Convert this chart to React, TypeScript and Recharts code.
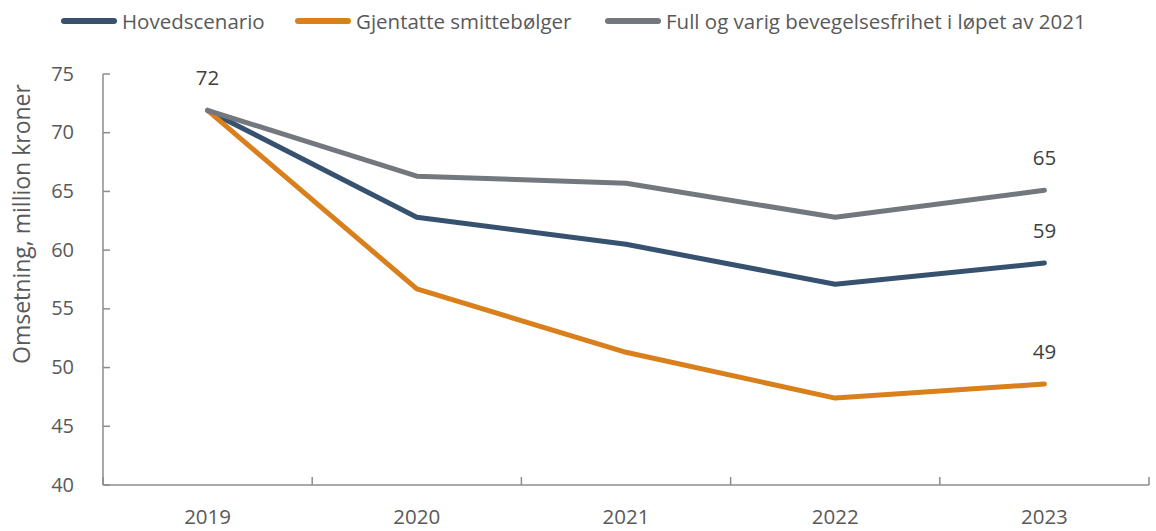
import { LineChart, Line, XAxis, YAxis, LabelList } from 'recharts';

const years = ['2019', '2020', '2021', '2022', '2023'];
const hovedscenario = [71.9, 62.8, 60.5, 57.1, 58.9];
const smittebolger = [71.9, 56.7, 51.3, 47.4, 48.6];
const fullFrihet = [71.9, 66.3, 65.7, 62.8, 65.1];
const yTicks = [40, 45, 50, 55, 60, 65, 70, 75];

const series = [
  { key: 'hoved', name: 'Hovedscenario', color: '#36526F', values: hovedscenario, legendX: 61 },
  { key: 'smitte', name: 'Gjentatte smittebølger', color: '#D97F1C', values: smittebolger, legendX: 295 },
  { key: 'full', name: 'Full og varig bevegelsesfrihet i løpet av 2021', color: '#72787E', values: fullFrihet, legendX: 605 },
];

const data = years.map((year, i) => ({
  year,
  hoved: hovedscenario[i],
  smitte: smittebolger[i],
  full: fullFrihet[i],
}));

const FONT = '"Open Sans", sans-serif';
const AXIS = '#8C8C8C';
const WIDTH = 1156;
const HEIGHT = 531;
const MARGIN = { top: 74, right: 7, bottom: 6, left: 0 };
const Y_WIDTH = 103;
const BAND = (WIDTH - MARGIN.left - MARGIN.right - Y_WIDTH) / years.length;

function XTick({ x, y, payload, index }: any) {
  const last = index === years.length - 1;
  return (
    <g>
      <line x1={x - BAND / 2} x2={x - BAND / 2} y1={y - 8} y2={y} stroke={AXIS} strokeWidth={1.5} />
      {last && <line x1={x + BAND / 2} x2={x + BAND / 2} y1={y - 8} y2={y} stroke={AXIS} strokeWidth={1.5} />}
      <text x={x} y={y + 39} textAnchor="middle" fill="#595959" fontSize={20.5} fontFamily={FONT}>
        {payload.value}
      </text>
    </g>
  );
}

function YTick({ x, y, payload }: any) {
  return (
    <g>
      <line x1={x} x2={x + 7} y1={y} y2={y} stroke={AXIS} strokeWidth={1.5} />
      <text x={x - 29} y={y + 6.5} textAnchor="end" fill="#595959" fontSize={20} fontFamily={FONT}>
        {payload.value}
      </text>
    </g>
  );
}

function makeLabel(showFirst: boolean) {
  return (props: any) => {
    const { x, y, value, index } = props;
    if (!(index === years.length - 1 || (showFirst && index === 0))) return null;
    return (
      <text x={x} y={y - 25} textAnchor="middle" fill="#404040" fontSize={20.5} fontFamily={FONT}>
        {Math.round(value)}
      </text>
    );
  };
}

function YLabel() {
  return (
    <text
      x={30}
      y={224}
      transform="rotate(-90 30 224)"
      textAnchor="middle"
      fill="#595959"
      fontSize={23}
      fontFamily={FONT}
    >
      Omsetning, million kroner
    </text>
  );
}

export default function App() {
  return (
    <div style={{ position: 'absolute', left: 0, top: 0, width: WIDTH, height: HEIGHT, background: '#fff' }}>
      {series.map((s) => (
        <div
          key={s.key}
          style={{
            position: 'absolute',
            left: s.legendX,
            top: 6,
            height: 30,
            display: 'flex',
            alignItems: 'center',
            fontFamily: FONT,
            fontSize: 20.5,
            color: '#595959',
            whiteSpace: 'nowrap',
          }}
        >
          <span style={{ display: 'inline-block', width: 56, height: 6, borderRadius: 3, background: s.color, marginRight: 5 }} />
          <span>{s.name}</span>
        </div>
      ))}
      <LineChart width={WIDTH} height={HEIGHT} data={data} margin={MARGIN}>
        <XAxis
          dataKey="year"
          stroke={AXIS}
          strokeWidth={1.5}
          tickLine={false}
          tickSize={0}
          tickMargin={0}
          height={40}
          interval={0}
          padding={{ left: BAND / 2, right: BAND / 2 }}
          tick={<XTick />}
        />
        <YAxis
          domain={[40, 75]}
          ticks={yTicks}
          width={Y_WIDTH}
          stroke={AXIS}
          strokeWidth={1.5}
          tickLine={false}
          tickSize={0}
          tickMargin={0}
          interval={0}
          tick={<YTick />}
          label={<YLabel />}
        />
        {series.map((s) => (
          <Line
            key={s.key}
            dataKey={s.key}
            name={s.name}
            stroke={s.color}
            strokeWidth={5}
            strokeLinecap="round"
            strokeLinejoin="round"
            dot={false}
            activeDot={false}
            isAnimationActive={false}
          >
            <LabelList dataKey={s.key} content={makeLabel(s.key === 'hoved')} />
          </Line>
        ))}
      </LineChart>
    </div>
  );
}
